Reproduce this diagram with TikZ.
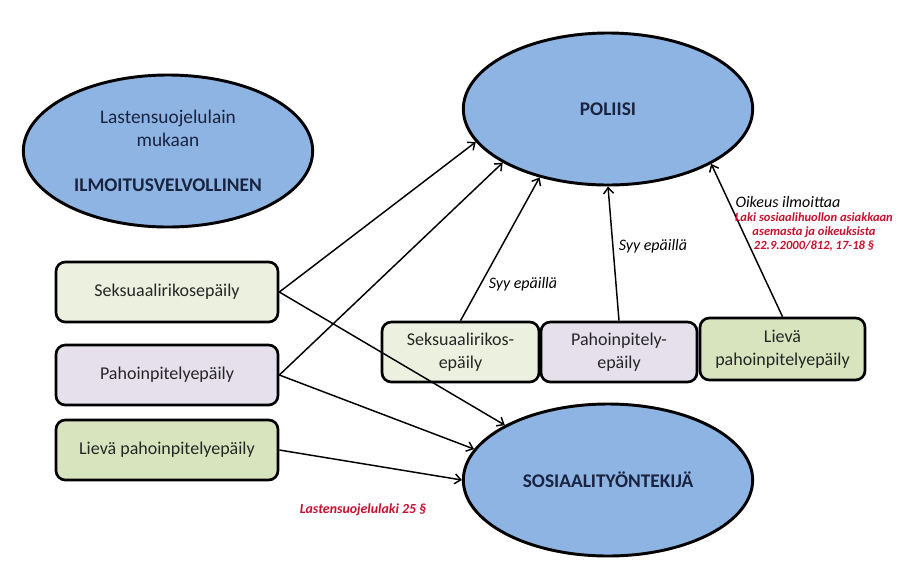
\documentclass[tikz,border=0pt]{standalone}
\usepackage{fontspec}
\setmainfont{Carlito}
\usetikzlibrary{shapes.geometric,arrows.meta}
\definecolor{ovalblue}{HTML}{8EB4E3}
\definecolor{ovaltext}{HTML}{1A2440}
\definecolor{seksfill}{HTML}{EBF1DE}
\definecolor{pahofill}{HTML}{E5E0EC}
\definecolor{lievafill}{HTML}{D7E4BD}
\definecolor{lakired}{HTML}{C8102E}

\begin{document}
\begin{tikzpicture}[x=0.75pt,y=-0.75pt,
    oval/.style={ellipse,draw=black,fill=ovalblue,line width=2.2pt,
      minimum width=217pt,minimum height=114pt,inner sep=0pt,
      text=ovaltext,align=center,font=\fontsize{14.5}{17.3}\selectfont},
    casebox/.style={rectangle,rounded corners=7pt,draw=black,line width=2pt,
      minimum width=166.5pt,minimum height=45pt,align=center,
      text=black!85,font=\fontsize{13.5}{17.3}\selectfont},
    syy/.style={font=\fontsize{12}{14}\selectfont\itshape},
    laki/.style={text=lakired,align=center,font=\fontsize{9.4}{10.2}\selectfont\bfseries\itshape},
    arr/.style={-{Straight Barb[length=4.5pt,width=7.5pt]},line width=1.1pt}]
  \useasboundingbox (0,0) rectangle (899,587);

  \node[oval] (velvollinen) at (168,151) {Lastensuojelulain\\mukaan\\[16.5pt]\textbf{ILMOITUSVELVOLLINEN}};
  \node[oval] (poliisi) at (608,109) {\textbf{POLIISI}};
  \node[oval] (sosiaali) at (608,480) {\textbf{SOSIAALITYÖNTEKIJÄ}};

  \node[casebox,fill=seksfill] (seks) at (167,292) {Seksuaalirikosepäily};
  \node[casebox,fill=pahofill] (paho) at (167,375) {Pahoinpitelyepäily};
  \node[casebox,fill=lievafill] (lieva) at (167,450) {Lievä pahoinpitelyepäily};

  \node[casebox,fill=seksfill,minimum width=117.75pt] (seks2) at (460.5,352) {Seksuaalirikos-\\epäily};
  \node[casebox,fill=pahofill,minimum width=117pt] (paho2) at (619,352) {Pahoinpitely-\\epäily};
  \node[casebox,fill=lievafill,minimum width=123.75pt,minimum height=46.5pt] (lieva2) at (782.5,349) {Lievä\\pahoinpitelyepäily};

  \draw[arr] (seks.east) -- (poliisi.194);
  \draw[arr] (seks.east) -- (sosiaali.152);
  \draw[arr] (paho.east) -- (poliisi.207.6);
  \draw[arr] (paho.east) -- (sosiaali.167);
  \draw[arr] (lieva.east) -- (sosiaali.180);
  \draw[arr] (seks2.north) -- (poliisi.225);
  \draw[arr] (paho2.north) -- (poliisi.270);
  \draw[arr] (lieva2.north) -- (poliisi.332);

  \node[syy] (syy1) at (523,284) {Syy epäillä};
  \node[syy] (syy2) at (653,246) {Syy epäillä};
  \node[syy] (oikeus) at (788,202) {Oikeus ilmoittaa};
  \node[laki] (sosiaalilaki) at (814,232) {Laki sosiaalihuollon asiakkaan\\asemasta ja oikeuksista\\22.9.2000/812, 17-18 §};
  \node[laki,font=\fontsize{10.4}{12}\selectfont\bfseries\itshape] (lslaki) at (363,510) {Lastensuojelulaki 25 §};
\end{tikzpicture}
\end{document}
